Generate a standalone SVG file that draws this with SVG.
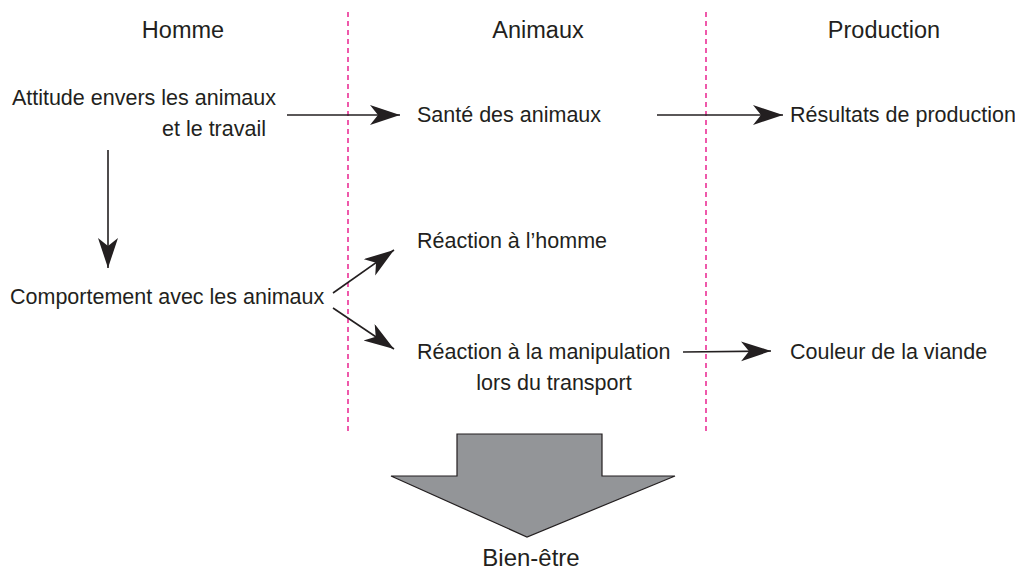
<svg xmlns="http://www.w3.org/2000/svg" width="1015" height="571" viewBox="0 0 1015 571">
<style>
text{font-family:"Liberation Sans",Arial,sans-serif;fill:#231f20}
.h{font-size:23.5px}
.t{font-size:21.5px}
.b{font-size:24px}
.m{text-anchor:middle}
.e{text-anchor:end}
.c{stroke:#231f20;stroke-width:1.6;fill:none}
.d{stroke:#e6007e;stroke-width:1.3;stroke-dasharray:5 4;fill:none}
</style>
<defs>
<marker id="ah" markerUnits="userSpaceOnUse" markerWidth="34" markerHeight="22" refX="30" refY="10" orient="auto">
<path d="M0,0 L30,10 L0,20 L8,10 Z" fill="#231f20"/>
</marker>
</defs>
<g id="guides">
<line class="d" x1="348" y1="12" x2="348" y2="432"/>
<line class="d" x1="706" y1="12" x2="706" y2="432"/>
</g>
<g id="headers">
<text class="h m" x="183" y="38">Homme</text>
<text class="h m" x="538" y="38">Animaux</text>
<text class="h m" x="884" y="38">Production</text>
</g>
<g id="n-attitude">
<text class="t e" x="276" y="105">Attitude envers les animaux</text>
<text class="t e" x="266" y="136">et le travail</text>
</g>
<g id="n-sante"><text class="t" x="417" y="122">Santé des animaux</text></g>
<g id="n-resultats"><text class="t" x="790" y="122">Résultats de production</text></g>
<g id="n-reaction-homme"><text class="t" x="417" y="248">Réaction à l’homme</text></g>
<g id="n-comportement"><text class="t" x="10" y="304">Comportement avec les animaux</text></g>
<g id="n-reaction-manip">
<text class="t" x="417" y="359">Réaction à la manipulation</text>
<text class="t m" x="554" y="390">lors du transport</text>
</g>
<g id="n-couleur"><text class="t" x="790" y="359">Couleur de la viande</text></g>
<g id="connectors">
<line class="c" x1="287" y1="115" x2="400" y2="115" marker-end="url(#ah)"/>
<line class="c" x1="657" y1="115" x2="783" y2="115" marker-end="url(#ah)"/>
<line class="c" x1="108" y1="150" x2="108" y2="268" marker-end="url(#ah)"/>
<line class="c" x1="333" y1="293" x2="394" y2="250" marker-end="url(#ah)"/>
<line class="c" x1="333" y1="308" x2="394" y2="349" marker-end="url(#ah)"/>
<line class="c" x1="683" y1="352" x2="771" y2="351" marker-end="url(#ah)"/>
</g>
<g id="n-bienetre">
<polygon points="457,434 602,434 602,476 675,476 527,537 391,476 457,476" fill="#939598" stroke="#231f20" stroke-width="1.2"/>
<text class="b m" x="531" y="566">Bien-être</text>
</g>
</svg>
